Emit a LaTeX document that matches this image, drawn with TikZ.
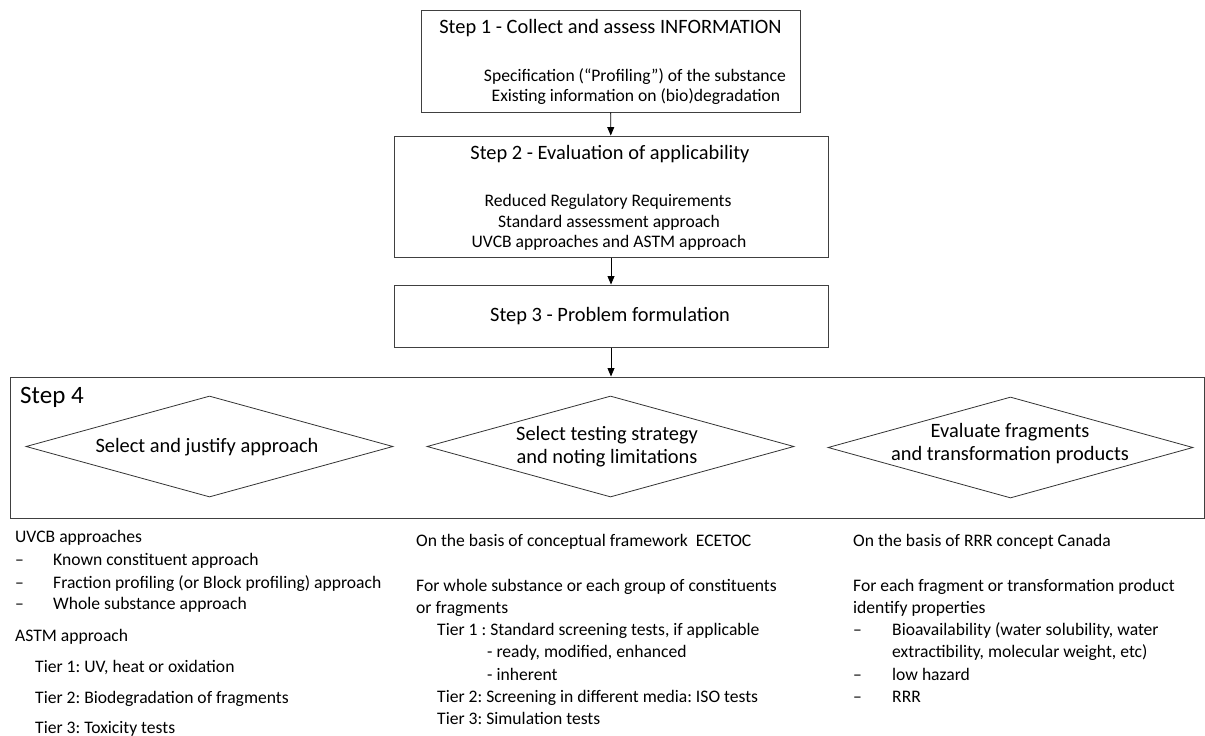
\documentclass[tikz,border=0pt]{standalone}
\usepackage{fontspec}
\setmainfont{Carlito}
\usepackage{tikz}
\usetikzlibrary{shapes}
\usetikzlibrary{shapes.geometric}
\usetikzlibrary{arrows}
\frenchspacing
\tikzstyle{stepbox}=[rectangle,draw=black!75,line width=1pt,inner sep=0mm]
\tikzstyle{choice}=[diamond,draw=black!80,line width=0.8pt,inner sep=0mm]
\tikzstyle{arrow}=[->,>=triangle 45,line width=0.9pt]
\tikzstyle{head}=[inner sep=0mm,anchor=base,font=\fontsize{20.4}{24}\selectfont]
\tikzstyle{body}=[inner sep=0mm,anchor=base,font=\fontsize{17.6}{20}\selectfont]
\tikzstyle{item}=[inner sep=0mm,anchor=base west,font=\fontsize{17.6}{20}\selectfont]
\tikzset{every picture/.style={
    x=1pt,y=-1pt
  }
}

\begin{document}
\begin{tikzpicture}
      \useasboundingbox (0,0) rectangle (1205,736);
      \node[stepbox, minimum width=379pt, minimum height=102pt] at (610.5,61) (s1) {};
      \node[stepbox, minimum width=434pt, minimum height=121pt] at (611,196.5) (s2) {};
      \node[stepbox, minimum width=434pt, minimum height=62pt] at (611,316) (s3) {};
      \node[stepbox, minimum width=1194pt, minimum height=141pt] at (607,447.5) (s4) {};
      \node[choice, minimum width=367pt, minimum height=101pt] at (209.5,446.5) (justify) {};
      \node[choice, minimum width=367pt, minimum height=101pt] at (610.5,446.5) (testing) {};
      \node[choice, minimum width=365pt, minimum height=101pt] at (1010.5,447.5) (fragments) {};
      \draw[arrow] (s1)--(s2);
      \draw[arrow] (s2)--(s3);
      \draw[arrow] (s3.south)--(s3.south |- s4.north);
      % step texts
      \node[head] at (610.5,33) (s1h) {Step 1 - Collect and assess INFORMATION};
      \node[body] at (635,81) (s1a) {Specification (“Profiling”) of the substance};
      \node[body] at (636,101) (s1b) {Existing information on (bio)degradation};
      \node[head] at (610,159) (s2h) {Step 2 - Evaluation of applicability};
      \node[body] at (608,206) (s2a) {Reduced Regulatory Requirements};
      \node[body] at (609,227) (s2b) {Standard assessment approach};
      \node[body] at (609,247) (s2c) {UVCB approaches and ASTM approach};
      \node[head] at (610,321) (s3h) {Step 3 - Problem formulation};
      \node[inner sep=0mm, anchor=base west, font=\fontsize{25}{30}\selectfont] at (20,403) (s4h) {Step 4};
      \node[head] at (207,452) (justifyt) {Select and justify approach};
      \node[head] at (607,440) (testingt1) {Select testing strategy};
      \node[head] at (607,463) (testingt2) {and noting limitations};
      \node[head] at (1010,437) (fragmentst1) {Evaluate fragments};
      \node[head] at (1010,460) (fragmentst2) {and transformation products};
      % left column
      \node[item] at (15,542) (uvcb) {UVCB approaches};
      \node[item] at (15,565) (uvcb1d) {–};
      \node[item] at (53,565) (uvcb1) {Known constituent approach};
      \node[item] at (15,588) (uvcb2d) {–};
      \node[item] at (53,588) (uvcb2) {Fraction profiling (or Block profiling) approach};
      \node[item] at (15,609) (uvcb3d) {–};
      \node[item] at (53,609) (uvcb3) {Whole substance approach};
      \node[item] at (15,641) (astm) {ASTM approach};
      \node[item] at (35,672) (astm1) {Tier 1: UV, heat or oxidation};
      \node[item] at (35,703) (astm2) {Tier 2: Biodegradation of fragments};
      \node[item] at (35,733) (astm3) {Tier 3: Toxicity tests};
      % middle column
      \node[item] at (416,546) (ecetoc) {On the basis of conceptual framework\ \ ECETOC};
      \node[item] at (416,591) (whole1) {For whole substance or each group of constituents};
      \node[item] at (416,613) (whole2) {or fragments};
      \node[item] at (437,635) (tier1) {Tier 1 : Standard screening tests, if applicable};
      \node[item] at (487,657) (tier1a) {- ready, modified, enhanced};
      \node[item] at (487,680) (tier1b) {- inherent};
      \node[item] at (437,702) (tier2) {Tier 2: Screening in different media: ISO tests};
      \node[item] at (437,724) (tier3) {Tier 3: Simulation tests};
      % right column
      \node[item] at (853,546) (rrr) {On the basis of RRR concept Canada};
      \node[item] at (853,591) (each1) {For each fragment or transformation product};
      \node[item] at (853,613) (each2) {identify properties};
      \node[item] at (853,635) (prop1d) {–};
      \node[item] at (892,635) (prop1) {Bioavailability (water solubility, water};
      \node[item] at (892,657) (prop1b) {extractibility, molecular weight, etc)};
      \node[item] at (853,680) (prop2d) {–};
      \node[item] at (892,680) (prop2) {low hazard};
      \node[item] at (853,702) (prop3d) {–};
      \node[item] at (892,702) (prop3) {RRR};
\end{tikzpicture}
\end{document}
